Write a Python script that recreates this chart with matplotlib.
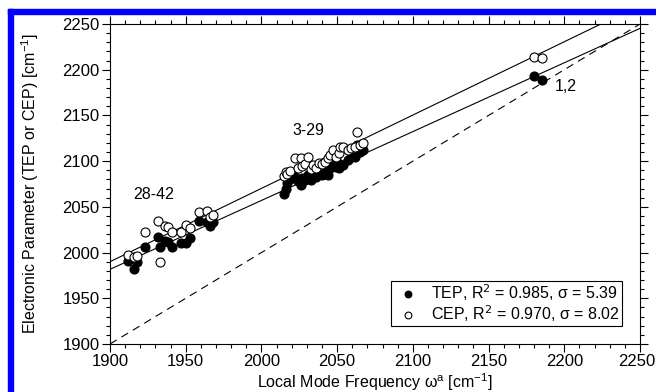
import numpy as np
import matplotlib.pyplot as plt
from matplotlib.patches import Rectangle
from matplotlib.ticker import MultipleLocator
from matplotlib.transforms import ScaledTranslation

plt.rcParams["font.family"] = ["Liberation Sans", "DejaVu Sans"]

# local mode frequencies (cm-1) and electronic parameters
omega = [2180, 2185,
         2015, 2016, 2017, 2019, 2022, 2024, 2026, 2027, 2029, 2031, 2033, 2034,
         2036, 2038, 2040, 2042, 2044, 2045, 2047, 2049, 2051, 2052, 2054, 2057,
         2059, 2062, 2063, 2065, 2067,
         1912, 1916, 1918, 1923, 1932, 1933, 1936, 1938, 1941, 1947, 1950, 1953,
         1959, 1964, 1966, 1968]
tep = [2193, 2189,
       2064, 2070, 2076, 2080, 2083, 2078, 2074, 2082, 2079, 2085, 2079, 2084,
       2083, 2086, 2085, 2088, 2085, 2093, 2096, 2094, 2092, 2097, 2096, 2101,
       2104, 2105, 2118, 2110, 2112,
       1991, 1982, 1990, 2006, 2017, 2006, 2013, 2012, 2006, 2011, 2011, 2016,
       2034, 2033, 2029, 2033]
cep = [2214, 2213,
       2084, 2088, 2086, 2089, 2103, 2092, 2103, 2095, 2097, 2104, 2091, 2096,
       2093, 2098, 2097, 2099, 2103, 2107, 2112, 2104, 2109, 2116, 2115, 2112,
       2114, 2116, 2132, 2118, 2120,
       1997, 1995, 1996, 2022, 2035, 1990, 2029, 2028, 2022, 2022, 2030, 2027,
       2044, 2046, 2039, 2041]

# linear fits y = a + b*x
tep_fit = (551.0, 0.753)
cep_fit = (466.2, 0.802)

group_labels = ["28-42", "3-29", "1,2"]
group_pos = [(1929, 2063), (2031, 2134), (2201, 2182)]

tep_label = "TEP, R$^2$ = 0.985, σ = 5.39"
cep_label = "CEP, R$^2$ = 0.970, σ = 8.02"

fig = plt.figure(figsize=(6.56, 3.92), dpi=100)
ax = fig.add_axes([110 / 656, 48 / 392, 530 / 656, 320 / 392])

xs = np.array([1900, 2250])
ax.plot(xs, xs, color="black", lw=0.8, ls=(0, (7, 5)))
ax.plot(xs, tep_fit[0] + tep_fit[1] * xs, color="black", lw=0.8)
ax.plot(xs, cep_fit[0] + cep_fit[1] * xs, color="black", lw=0.8)

ax.plot(omega, tep, "o", ms=6.5, mfc="black", mec="black", mew=0.8,
        ls="none", label=tep_label)
ax.plot(omega, cep, "o", ms=6.5, mfc="white", mec="black", mew=0.8,
        ls="none", label=cep_label)

for txt, (x, y) in zip(group_labels, group_pos):
    ax.text(x, y, txt, fontsize=11.5, ha="center", va="center")

ax.set_xlim(1900, 2250)
ax.set_ylim(1900, 2250)
ax.xaxis.set_major_locator(MultipleLocator(50))
ax.xaxis.set_minor_locator(MultipleLocator(10))
ax.yaxis.set_major_locator(MultipleLocator(50))
ax.yaxis.set_minor_locator(MultipleLocator(10))
ax.tick_params(which="both", direction="out", top=True, right=True,
               labelsize=12, width=0.8)
ax.tick_params(which="major", length=6, pad=1.5)
ax.tick_params(which="minor", length=3)
for s in ax.spines.values():
    s.set_linewidth(0.8)

ax.set_xlabel("Local Mode Frequency ω$^\\mathregular{a}$ [cm$^\\mathregular{-1}$]",
              fontsize=11.5, labelpad=1)
ax.set_ylabel("Electronic Parameter (TEP or CEP) [cm$^\\mathregular{-1}$]",
              fontsize=11.5, labelpad=15)

leg = ax.legend(loc="lower right", bbox_to_anchor=(0.966, 0.056), fontsize=11.5,
                frameon=True, fancybox=False, edgecolor="black", framealpha=1,
                handletextpad=0.5, borderpad=0.12, labelspacing=0.0,
                handlelength=1.9, markerscale=0.75, borderaxespad=0)
leg.get_frame().set_linewidth(0.8)

# blue frame along the left and top edges
fig.patches.append(Rectangle((8 / 656, 0), 5 / 656, 383 / 392, color="#0000ff",
                             transform=fig.transFigure, figure=fig))
fig.patches.append(Rectangle((8 / 656, 378 / 392), 648 / 656, 5 / 392,
                             color="#0000ff", transform=fig.transFigure, figure=fig))

# nudge the 2250 label on the x axis so it stays inside the figure
fig.canvas.draw()
for tick, loc in zip(ax.xaxis.get_major_ticks(), ax.xaxis.get_majorticklocs()):
    if abs(loc - 2250) < 1e-6:
        lab = tick.label1
        lab.set_transform(lab.get_transform()
                          + ScaledTranslation(-3 / 100, 0, fig.dpi_scale_trans))

fig.savefig("out.png", dpi=100)
